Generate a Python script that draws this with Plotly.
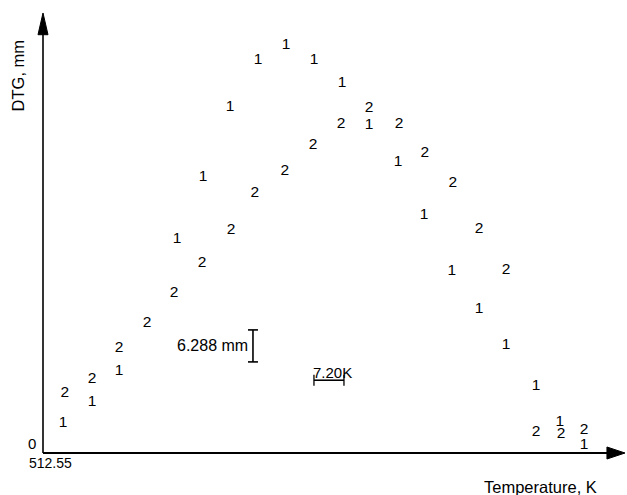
import plotly.graph_objects as go

# ---- data ----
temp_1 = [517.35, 524.31, 530.79, 544.71, 550.95, 557.43, 564.15, 570.87, 577.59,
          584.31, 590.79, 597.75, 604.0, 610.7, 617.2, 623.7, 630.9, 636.6, 642.4]
dtg_1 = [5.9, 10.0, 16.1, 42.1, 54.2, 68.0, 77.2, 80.2, 77.2,
         72.7, 64.5, 57.2, 46.8, 35.8, 28.3, 21.2, 13.2, 6.1, 1.6]

temp_2 = [517.8, 524.3, 530.8, 537.5, 544.0, 550.7, 557.7, 563.4, 570.6, 577.4,
          584.1, 590.8, 598.0, 604.2, 610.9, 617.2, 623.7, 630.9, 636.9, 642.4]
dtg_2 = [11.8, 14.5, 20.6, 25.5, 31.4, 37.3, 43.8, 51.1, 55.4, 60.5,
         64.6, 67.8, 64.6, 59.0, 53.1, 44.0, 36.0, 4.1, 3.7, 4.5]

series_labels = ["1", "2"]
x_origin = 512.55
x_origin_label = "512.55"
y_origin_label = "0"
scale_mm = 6.288
scale_mm_label = "6.288 mm"
scale_K = 7.20
scale_K_label = "7.20K"
x_max = 652.25
y_max = 86.07

# scale bar anchor positions (data units)
mm_bar_x = 562.95
mm_bar_y0 = 17.9
k_bar_x0 = 577.59
k_bar_y = 14.3

FONT = "Liberation Sans"
INK = "#000000"

fig = go.Figure()
for xs, ys, lab in [(temp_1, dtg_1, series_labels[0]), (temp_2, dtg_2, series_labels[1])]:
    fig.add_trace(go.Scatter(
        x=xs, y=ys, mode="text", text=[lab] * len(xs),
        textposition="middle center",
        textfont=dict(family=FONT, size=15.5, color=INK, weight=500),
        showlegend=False, hoverinfo="skip"))

shapes = []
# axes lines
shapes.append(dict(type="line", xref="paper", yref="paper", x0=0, x1=0.975, y0=0, y1=0,
                   line=dict(color=INK, width=2.2)))
shapes.append(dict(type="line", xref="paper", yref="paper", x0=0, x1=0, y0=0, y1=0.97,
                   line=dict(color=INK, width=1.6)))
# arrow heads
shapes.append(dict(type="path", xref="paper", yref="paper",
                   path="M 0.969,0.0137 L 1.0,0 L 0.969,-0.0137 Z",
                   fillcolor=INK, line=dict(color=INK, width=1)))
shapes.append(dict(type="path", xref="paper", yref="paper",
                   path="M -0.0086,0.955 L 0,1.0046 L 0.0086,0.955 Z",
                   fillcolor=INK, line=dict(color=INK, width=1)))

# 6.288 mm bracket
dx_serif = 1.2
shapes.append(dict(type="line", x0=mm_bar_x, x1=mm_bar_x, y0=mm_bar_y0, y1=mm_bar_y0 + scale_mm,
                   line=dict(color=INK, width=1.6)))
for yy in (mm_bar_y0, mm_bar_y0 + scale_mm):
    shapes.append(dict(type="line", x0=mm_bar_x - dx_serif, x1=mm_bar_x + dx_serif, y0=yy, y1=yy,
                       line=dict(color=INK, width=1.6)))

# 7.20 K bar
dy_tick = 1.1
shapes.append(dict(type="line", x0=k_bar_x0, x1=k_bar_x0 + scale_K, y0=k_bar_y, y1=k_bar_y,
                   line=dict(color=INK, width=1.6)))
for xx in (k_bar_x0, k_bar_x0 + scale_K):
    shapes.append(dict(type="line", x0=xx, x1=xx, y0=k_bar_y - dy_tick, y1=k_bar_y + dy_tick,
                       line=dict(color=INK, width=1.3)))

annotations = [
    dict(x=mm_bar_x, y=mm_bar_y0 + scale_mm / 2, text=scale_mm_label, showarrow=False,
         xanchor="right", yanchor="middle", xshift=-3,
         font=dict(family=FONT, size=16, color=INK)),
    dict(x=k_bar_x0, y=k_bar_y, text=scale_K_label, showarrow=False,
         xanchor="left", yanchor="bottom", xshift=-3, yshift=-3,
         font=dict(family=FONT, size=15, color=INK)),
    dict(x=x_origin, y=0, text=y_origin_label, showarrow=False,
         xanchor="right", yanchor="bottom", xshift=-5, yshift=-1,
         font=dict(family=FONT, size=15, color=INK)),
    dict(x=x_origin, y=0, text=x_origin_label, showarrow=False,
         xanchor="center", yanchor="top", xshift=7, yshift=0,
         font=dict(family=FONT, size=14, color=INK)),
    dict(xref="paper", yref="paper", x=0.855, y=-0.077, text="Temperature, K", showarrow=False,
         xanchor="center", yanchor="middle",
         font=dict(family=FONT, size=16.5, color=INK)),
    dict(xref="paper", yref="paper", x=-0.043, y=0.862, text="DTG, mm", showarrow=False,
         xanchor="center", yanchor="middle", textangle=-90,
         font=dict(family=FONT, size=16.5, color=INK)),
]

fig.update_layout(
    width=627, height=495,
    margin=dict(l=43, r=2, t=15, b=42),
    paper_bgcolor="white", plot_bgcolor="white",
    xaxis=dict(range=[x_origin, x_max], visible=False, fixedrange=True),
    yaxis=dict(range=[0, y_max], visible=False, fixedrange=True),
    shapes=shapes, annotations=annotations,
)

fig.write_html("out.html", config={"displayModeBar": False},
               post_script="document.body.style.margin='0';document.body.style.overflow='hidden';")
